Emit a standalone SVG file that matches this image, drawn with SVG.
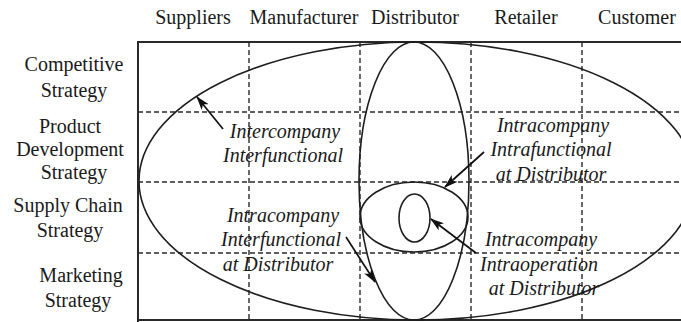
<svg xmlns="http://www.w3.org/2000/svg" width="681" height="322" viewBox="0 0 681 322">
<style>
text{font-family:"Liberation Serif","Times New Roman",serif;font-size:20px;fill:#1a1a1a;text-anchor:middle}
.it{font-style:italic}
.frame{stroke:#2a2a2a;stroke-width:2;fill:none}
.dash{stroke:#2a2a2a;stroke-width:1.4;stroke-dasharray:5 3;fill:none}
.ell{stroke:#1e1e1e;stroke-width:1.6;fill:none}
.arr{stroke:#111;stroke-width:1.7;fill:none;marker-end:url(#ah)}
</style>
<defs>
<marker id="ah" viewBox="0 0 14 9" refX="13" refY="4.5" markerWidth="14" markerHeight="9" markerUnits="userSpaceOnUse" orient="auto">
<path d="M0,0 L14,4.5 L0,9 L3.5,4.5 Z" fill="#111"/>
</marker>
</defs>
<g id="grid">
<path class="frame" d="M681,42 H138 V322"/>
<path class="frame" d="M138,320 H681" stroke-width="1.2"/>
<path class="dash" d="M249,42 V320 M360,42 V320 M471,42 V320 M582,42 V320"/>
<path class="dash" d="M138,112 H681 M138,182 H681 M138,253 H681"/>
</g>
<g id="headers">
<text x="193" y="24">Suppliers</text>
<text x="304" y="24">Manufacturer</text>
<text x="415" y="24">Distributor</text>
<text x="526" y="24">Retailer</text>
<text x="637" y="24">Customer</text>
</g>
<g id="rows">
<text x="74" y="71">Competitive</text>
<text x="74" y="97">Strategy</text>
<text x="70" y="133">Product</text>
<text x="70" y="156">Development</text>
<text x="74" y="179">Strategy</text>
<text x="68" y="212">Supply Chain</text>
<text x="70" y="237">Strategy</text>
<text x="81" y="282">Marketing</text>
<text x="78" y="307">Strategy</text>
</g>
<g id="intercompany-ellipse"><ellipse class="ell" cx="417" cy="181" rx="278" ry="139"/></g>
<g id="distributor-ellipse"><ellipse class="ell" cx="414" cy="181" rx="55" ry="139"/></g>
<g id="function-ellipse"><ellipse class="ell" cx="414" cy="217" rx="54" ry="35"/></g>
<g id="operation-ellipse"><ellipse class="ell" cx="414.5" cy="218" rx="15.5" ry="24" fill="#dce1e5"/></g>
<g id="labels">
<text class="it" x="285" y="138">Intercompany</text>
<text class="it" x="283" y="162">Interfunctional</text>
<text class="it" x="553" y="132">Intracompany</text>
<text class="it" x="551" y="156">Intrafunctional</text>
<text class="it" x="551" y="181">at Distributor</text>
<text class="it" x="283" y="222">Intracompany</text>
<text class="it" x="281" y="246">Interfunctional</text>
<text class="it" x="278" y="271">at Distributor</text>
<text class="it" x="541" y="246">Intracompany</text>
<text class="it" x="539" y="271">Intraoperation</text>
<text class="it" x="544" y="295">at Distributor</text>
</g>
<g id="connectors">
<path class="arr" d="M223,129 L197,97"/>
<path class="arr" d="M484,152 L445,187"/>
<path class="arr" d="M346,237 L375,282"/>
<path class="arr" d="M476,253 L431,219"/>
</g>
</svg>
